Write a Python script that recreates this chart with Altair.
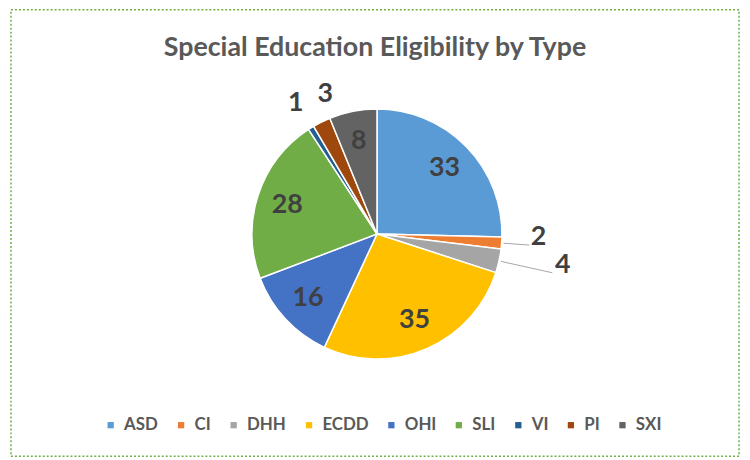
import altair as alt
import pandas as pd

categories = ["ASD", "CI", "DHH", "ECDD", "OHI", "SLI", "VI", "PI", "SXI"]
counts = [33, 2, 4, 35, 16, 28, 1, 3, 8]
colors = ["#5B9BD5", "#ED7D31", "#A5A5A5", "#FFC000", "#4472C4",
          "#70AD47", "#255E91", "#9E480E", "#636363"]

df = pd.DataFrame({"category": categories, "count": counts,
                   "idx": list(range(len(categories)))})

W, H = 740, 452
CX, CY, R = 372, 226, 126
FONT = "Lato"

color_enc = alt.Color(
    "category:N",
    scale=alt.Scale(domain=categories, range=colors),
    sort=categories,
    legend=alt.Legend(
        title=None, orient="none", legendX=95, legendY=410,
        direction="horizontal", columns=9, symbolType="square",
        symbolSize=40, symbolStrokeWidth=0, labelFont=FONT, labelFontSize=17,
        labelFontWeight="bold", labelColor="#595959", columnPadding=14,
        labelOffset=5,
    ),
)

pie = alt.Chart(df).mark_arc(outerRadius=R, stroke="white", strokeWidth=1.5).encode(
    theta=alt.Theta("count:Q", stack=True),
    order=alt.Order("idx:Q"),
    color=color_enc,
    x=alt.value(CX),
    y=alt.value(CY),
)

base = (
    alt.Chart(df)
    .transform_joinaggregate(total="sum(count)")
    .transform_window(cum="sum(count)", sort=[alt.SortField("idx")], frame=[None, 0])
    .transform_calculate(mid="2*PI*(datum.cum - datum.count/2)/datum.total")
    .transform_calculate(
        lr="datum.count >= 5 ? 95 : (datum.category == 'CI' ? 163 : (datum.category == 'DHH' ? 190 : (datum.category == 'VI' ? 155 : 150)))",
        da="datum.category == 'CI' ? -3 : (datum.category == 'DHH' ? -3 : (datum.category == 'PI' ? 6 : 0))",
    )
    .transform_calculate(la="datum.mid + datum.da*PI/180")
    .transform_calculate(
        lx=f"{CX} + datum.lr*sin(datum.la)",
        ly=f"{CY} - datum.lr*cos(datum.la)",
    )
)

labels = base.mark_text(
    font=FONT, fontWeight="bold", fontSize=27, color="#404040",
    align="center", baseline="middle",
).encode(
    x=alt.X("lx:Q", scale=None, axis=None),
    y=alt.Y("ly:Q", scale=None, axis=None),
    text="count:Q",
)

leaders = (
    base.transform_filter("datum.category == 'CI' || datum.category == 'DHH'")
    .transform_calculate(r1=f"{R + 2}", r2="datum.lr - 9")
    .transform_calculate(
        x1=f"{CX} + datum.r1*sin(datum.mid)",
        y1=f"{CY} - datum.r1*cos(datum.mid)",
        x2=f"{CX} + datum.r2*sin(datum.mid)",
        y2=f"{CY} - datum.r2*cos(datum.mid)",
    )
    .mark_rule(color="#A6A6A6", strokeWidth=1)
    .encode(
        x=alt.X("x1:Q", scale=None, axis=None),
        y=alt.Y("y1:Q", scale=None, axis=None),
        x2="x2:Q",
        y2="y2:Q",
    )
)

border = alt.Chart(pd.DataFrame({"a": [0]})).mark_rect(
    fill="transparent", stroke="#70AD47", strokeDash=[2, 2], strokeWidth=1.5
).encode(x=alt.value(3), x2=alt.value(737), y=alt.value(0), y2=alt.value(450))

chart = (
    alt.layer(border, pie, leaders, labels)
    .properties(
        width=W, height=H,
        autosize=alt.AutoSizeParams(type="none"),
        padding=0,
        title=alt.TitleParams(
            "Special Education Eligibility by Type", font=FONT, fontSize=27,
            fontWeight="bold", color="#595959", anchor="middle", offset=-53,
        ),
    )
    .configure_view(stroke=None)
)

chart.save("out.html", embed_options={"renderer": "svg", "actions": False})
